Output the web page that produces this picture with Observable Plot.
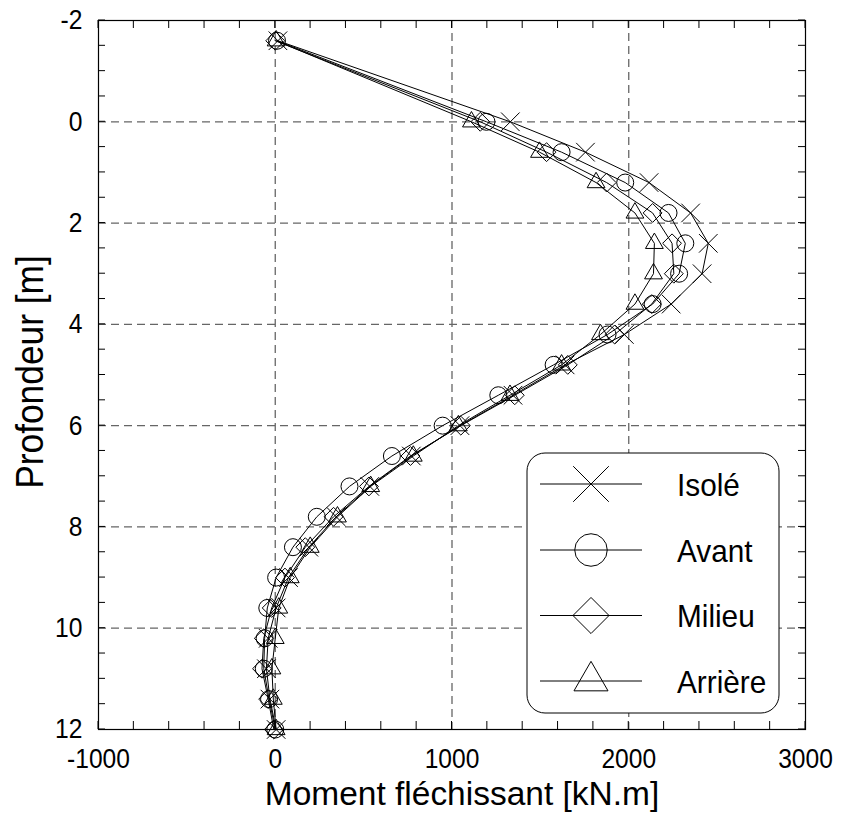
<!DOCTYPE html>
<html><head><meta charset="utf-8">
<script src="https://cdn.jsdelivr.net/npm/d3@7"></script>
<script src="https://cdn.jsdelivr.net/npm/@observablehq/plot@0.6"></script>
<style>body{margin:0;background:#fff}</style>
</head><body><div id="chart"></div>
<script>
const depths  = [-1.6, 0, 0.6, 1.2, 1.8, 2.4, 3.0, 3.6, 4.2, 4.8, 5.4, 6.0, 6.6, 7.2, 7.8, 8.4, 9.0, 9.6, 10.2, 10.8, 11.4, 12.0];
const isole   = [15, 1330, 1755, 2115, 2350, 2450, 2415, 2240, 1975, 1640, 1345, 1045, 770, 535, 345, 190, 75, 5, -40, -50, -30, 5];
const avant   = [10, 1195, 1620, 1980, 2225, 2320, 2285, 2135, 1880, 1575, 1262, 947, 660, 420, 235, 100, 5, -45, -60, -65, -35, 0];
const milieu  = [0, 1160, 1535, 1875, 2135, 2245, 2255, 2130, 1920, 1655, 1355, 1050, 765, 530, 330, 170, 55, -20, -65, -75, -40, -8];
const arriere = [5, 1110, 1495, 1815, 2035, 2145, 2140, 2035, 1840, 1620, 1328, 1036, 781, 540, 352, 198, 85, 20, 0, -19, -11, 5];
const seriesNames = ["Isolé", "Avant", "Milieu", "Arrière"];
const seriesSymbols = ["times", "circle", "diamond2", "triangle2"];
const xTicks = [-1000, 0, 1000, 2000, 3000];
const yTicks = [-2, 0, 2, 4, 6, 8, 10, 12];
const xGrid = [0, 1000, 2000];
const yGrid = [0, 2, 4, 6, 8, 10];
const xLabel = "Moment fléchissant [kN.m]";
const yLabel = "Profondeur [m]";

const seriesValues = [isole, avant, milieu, arriere];
const rows = [];
seriesNames.forEach((s, i) => depths.forEach((d, j) => rows.push({serie: s, depth: d, moment: seriesValues[i][j]})));

const font = "'Liberation Sans', Arial, Helvetica, sans-serif";
const plot = Plot.plot({
  width: 842, height: 814,
  marginLeft: 98, marginRight: 37, marginTop: 20, marginBottom: 85,
  style: {fontFamily: font, background: "white", color: "black"},
  x: {domain: [-1000, 3000]},
  y: {domain: [-2, 12], reverse: true},
  symbol: {domain: seriesNames, range: seriesSymbols},
  marks: [
    Plot.gridX({ticks: xGrid, stroke: "#666", strokeOpacity: 1, strokeDasharray: "8,5", strokeWidth: 1.3}),
    Plot.gridY({ticks: yGrid, stroke: "#666", strokeOpacity: 1, strokeDasharray: "8,5", strokeWidth: 1.3}),
    Plot.axisX({ticks: xTicks, tickSize: 0, tickPadding: 19, fontSize: 27, label: null, tickFormat: d => String(d)}),
    Plot.axisY({ticks: yTicks, tickSize: 0, tickPadding: 16, fontSize: 28, label: null, tickFormat: d => String(d)}),
    Plot.line(rows, {x: "moment", y: "depth", z: "serie", stroke: "black", strokeWidth: 1}),
    Plot.dot(rows, {x: "moment", y: "depth", symbol: "serie", r: 8.5, stroke: "black", fill: "none", strokeWidth: 1}),
    Plot.frame({stroke: "black", strokeWidth: 1.2}),
    Plot.text([xLabel], {frameAnchor: "bottom", lineAnchor: "middle", dy: 65, dx: 10, fontSize: 34, textAnchor: "middle", text: d => d}),
    Plot.text([yLabel], {frameAnchor: "left", lineAnchor: "middle", dx: -68, dy: -3, rotate: -90, fontSize: 38, textAnchor: "middle", text: d => d})
  ]
});
document.getElementById("chart").appendChild(plot);

const svg = d3.select(plot);
// condensed lettering, like the reference's narrow face
svg.selectAll("g[aria-label='x-axis tick label'] text")
  .attr("transform", function() { return (this.getAttribute("transform") || "") + " scale(0.91,1)"; });
svg.selectAll("g[aria-label='y-axis tick label'] text")
  .attr("transform", function() { return (this.getAttribute("transform") || "") + " scale(0.88,1)"; });
svg.selectAll("g[aria-label='text'] text")
  .attr("transform", function() {
    const k = this.textContent === xLabel ? 0.985 : 0.93;
    return (this.getAttribute("transform") || "") + ` scale(${k},1)`;
  });

// inner minor ticks, placed with the plot's own scales
const sx = plot.scale("x"), sy = plot.scale("y");
const X0 = sx.apply(-1000), X1 = sx.apply(3000), Y0 = sy.apply(-2), Y1 = sy.apply(12);
const g = svg.append("g").attr("stroke", "black").attr("stroke-width", 1);
d3.range(-1000, 3001, 200).forEach(v => {
  const px = sx.apply(v);
  g.append("line").attr("x1", px).attr("x2", px).attr("y1", Y0).attr("y2", Y0 + 8);
  g.append("line").attr("x1", px).attr("x2", px).attr("y1", Y1).attr("y2", Y1 - 8);
});
d3.range(-2, 12.01, 0.5).forEach(v => {
  const py = sy.apply(v);
  g.append("line").attr("y1", py).attr("y2", py).attr("x1", X0).attr("x2", X0 + 7);
  g.append("line").attr("y1", py).attr("y2", py).attr("x1", X1).attr("x2", X1 - 7);
});

// legend
const symMap = {times: d3.symbolTimes, circle: d3.symbolCircle, diamond2: d3.symbolDiamond2, triangle2: d3.symbolTriangle2};
const lg = svg.append("g").attr("font-family", font);
lg.append("rect").attr("x", 527).attr("y", 453).attr("width", 252).attr("height", 260)
  .attr("rx", 18).attr("fill", "white").attr("stroke", "black").attr("stroke-width", 1);
const rowY = [484, 550, 615.5, 681];
seriesNames.forEach((s, i) => {
  const y = rowY[i];
  lg.append("line").attr("x1", 540).attr("x2", 642).attr("y1", y).attr("y2", y).attr("stroke", "black");
  lg.append("path").attr("transform", `translate(591,${y})`)
    .attr("d", d3.symbol(symMap[seriesSymbols[i]], 830)())
    .attr("fill", "none").attr("stroke", "black");
  lg.append("text").attr("text-anchor", "start").attr("font-size", 32)
    .attr("transform", `translate(677,${y}) scale(0.93,1)`).attr("dy", "0.36em").text(s);
});
</script>
</body></html>
